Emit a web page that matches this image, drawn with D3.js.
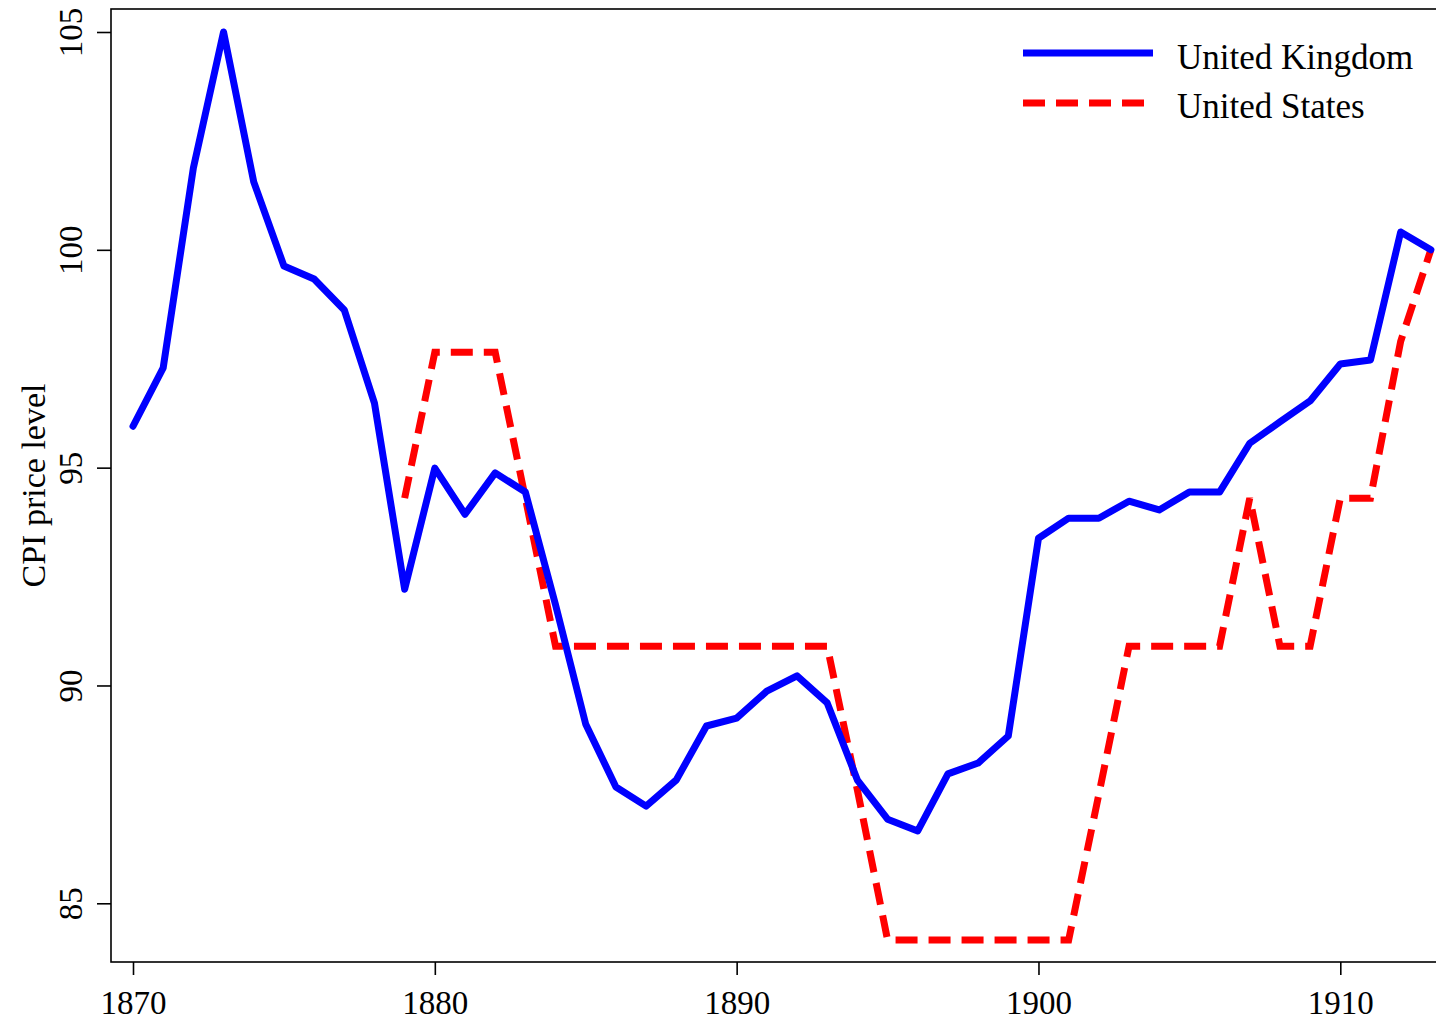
<!DOCTYPE html>
<html>
<head>
<meta charset="utf-8">
<script src="https://cdn.jsdelivr.net/npm/d3@7"></script>
<style>
html, body { margin: 0; padding: 0; background: #fff; }
svg { display: block; }
text { font-family: "Liberation Serif", "DejaVu Serif", serif; fill: #000; }
</style>
</head>
<body>
<svg id="chart" width="1436" height="1021"></svg>
<script>
const ukYears = d3.range(1870, 1914);
const ukValues = [95.95, 97.29, 101.88, 105.0, 101.56, 99.63, 99.33, 98.62, 96.48, 92.21,
  94.99, 93.93, 94.88, 94.44, 91.85, 89.11, 87.67, 87.23, 87.83, 89.07,
  89.25, 89.87, 90.22, 89.60, 87.83, 86.93, 86.66, 87.97, 88.22, 88.84,
  93.38, 93.84, 93.84, 94.23, 94.03, 94.44, 94.44, 95.56, 96.05, 96.53,
  97.38, 97.47, 100.41, 100.0];
const usYears = d3.range(1879, 1914);
const usValues = [94.30, 97.65, 97.65, 97.65, 94.30,
  90.90, 90.90, 90.90, 90.90, 90.90, 90.90, 90.90, 90.90, 90.90, 90.90,
  87.60, 84.16, 84.16, 84.16, 84.16, 84.16, 84.16, 84.16,
  87.50, 90.90, 90.90, 90.90, 90.90, 94.30, 90.90, 90.90,
  94.30, 94.30, 97.90, 100.0];
const xTicks = [1870, 1880, 1890, 1900, 1910];
const yTicks = [85, 90, 95, 100, 105];
const seriesNames = ["United Kingdom", "United States"];
const seriesColors = ["#0000ff", "#ff0000"];
const yTitle = "CPI price level";

const svg = d3.select("#chart");
const box = { left: 111, top: 9, right: 1442, bottom: 962 };

const x = d3.scaleLinear().domain([1870, 1910]).range([133, 1340.3]);
const y = d3.scaleLinear().domain([85, 105]).range([903.3, 32]);

// plot box
svg.append("rect")
  .attr("x", box.left).attr("y", box.top)
  .attr("width", box.right - box.left).attr("height", box.bottom - box.top)
  .attr("fill", "none").attr("stroke", "#000").attr("stroke-width", 1.6);

// x axis
const xAxis = d3.axisBottom(x).tickValues(xTicks).tickSize(13).tickPadding(6).tickFormat(d3.format("d"));
const gx = svg.append("g").attr("transform", `translate(0,${box.bottom})`).call(xAxis);
gx.select(".domain").remove();
gx.selectAll(".tick line").attr("stroke", "#000").attr("stroke-width", 1.6);
gx.selectAll(".tick text")
  .attr("font-family", '"Liberation Serif", serif')
  .attr("font-size", 33)
  .attr("dy", null)
  .attr("y", 52)
  .attr("fill", "#000");

// y axis
const yAxis = d3.axisLeft(y).tickValues(yTicks).tickSize(14).tickFormat(d3.format("d"));
const gy = svg.append("g").attr("transform", `translate(${box.left},0)`).call(yAxis);
gy.select(".domain").remove();
gy.selectAll(".tick line").attr("stroke", "#000").attr("stroke-width", 1.6);
gy.selectAll(".tick text")
  .attr("font-family", '"Liberation Serif", serif')
  .attr("font-size", 33)
  .attr("x", null).attr("dy", null)
  .attr("text-anchor", "middle")
  .attr("transform", "translate(-29,0) rotate(-90)")
  .attr("fill", "#000");

// y title
svg.append("text")
  .attr("transform", `translate(45,${(box.top + box.bottom) / 2}) rotate(-90)`)
  .attr("text-anchor", "middle")
  .attr("font-size", 34)
  .text(yTitle);

// lines
const ukData = ukYears.map((yr, i) => ({ x: yr, y: ukValues[i] }));
const usData = usYears.map((yr, i) => ({ x: yr, y: usValues[i] }));
const line = d3.line().x(d => x(d.x)).y(d => y(d.y));

svg.append("path").datum(usData)
  .attr("d", line)
  .attr("fill", "none").attr("stroke", seriesColors[1]).attr("stroke-width", 7)
  .attr("stroke-dasharray", "22,11").attr("stroke-linejoin", "miter");

svg.append("path").datum(ukData)
  .attr("d", line)
  .attr("fill", "none").attr("stroke", seriesColors[0]).attr("stroke-width", 7)
  .attr("stroke-linejoin", "round").attr("stroke-linecap", "round");

// legend
const legend = svg.append("g");
const legendRows = [
  { name: seriesNames[0], color: seriesColors[0], dash: null, ly: 53, x2: 1153, ty: 69 },
  { name: seriesNames[1], color: seriesColors[1], dash: "22,11", ly: 103, x2: 1145, ty: 118 }
];
legendRows.forEach(r => {
  legend.append("line")
    .attr("x1", 1023).attr("x2", r.x2).attr("y1", r.ly).attr("y2", r.ly)
    .attr("stroke", r.color).attr("stroke-width", 7)
    .attr("stroke-dasharray", r.dash);
  legend.append("text")
    .attr("x", 1177).attr("y", r.ty)
    .attr("font-size", 35)
    .text(r.name);
});
</script>
</body>
</html>
